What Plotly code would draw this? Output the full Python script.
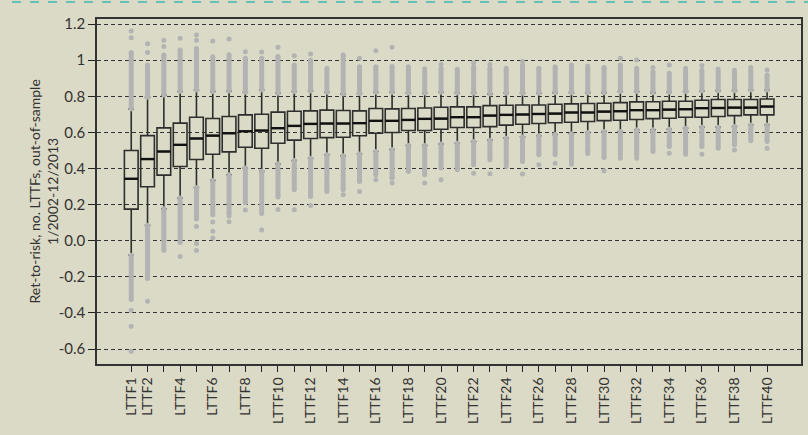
import plotly.graph_objects as go

categories = [f"LTTF{i}" for i in range(1, 41)]
tick_labels = ["LTTF1", "LTTF2"] + ["" if i % 2 else f"LTTF{i}" for i in range(3, 41)]
y_title = "Ret-to-risk, no. LTTFs, out-of-sample<br>1/2002-12/2013"

q1 = [0.175, 0.299, 0.363, 0.411, 0.450, 0.479, 0.492, 0.518, 0.512, 0.540,
      0.557, 0.566, 0.571, 0.573, 0.581, 0.595, 0.599, 0.610, 0.610, 0.617,
      0.627, 0.627, 0.632, 0.640, 0.645, 0.649, 0.653, 0.656, 0.660, 0.665,
      0.667, 0.671, 0.676, 0.678, 0.684, 0.684, 0.688, 0.693, 0.697, 0.697]
median = [0.343, 0.452, 0.494, 0.531, 0.566, 0.582, 0.595, 0.606, 0.610, 0.623,
          0.636, 0.647, 0.649, 0.649, 0.651, 0.664, 0.664, 0.669, 0.675, 0.676,
          0.684, 0.684, 0.693, 0.697, 0.699, 0.702, 0.704, 0.710, 0.710, 0.715,
          0.717, 0.723, 0.723, 0.726, 0.728, 0.734, 0.735, 0.737, 0.737, 0.743]
q3 = [0.500, 0.582, 0.625, 0.651, 0.684, 0.677, 0.688, 0.697, 0.700, 0.712,
      0.717, 0.719, 0.723, 0.721, 0.719, 0.732, 0.730, 0.732, 0.735, 0.739,
      0.741, 0.741, 0.748, 0.750, 0.752, 0.752, 0.756, 0.758, 0.760, 0.761,
      0.765, 0.769, 0.770, 0.772, 0.772, 0.778, 0.782, 0.782, 0.782, 0.785]
whisker_low = [-0.081, 0.085, 0.177, 0.236, 0.295, 0.334, 0.365, 0.402, 0.384, 0.426,
               0.444, 0.457, 0.476, 0.470, 0.480, 0.494, 0.505, 0.527, 0.527, 0.535,
               0.540, 0.549, 0.557, 0.568, 0.575, 0.581, 0.588, 0.592, 0.599, 0.605,
               0.605, 0.614, 0.614, 0.617, 0.623, 0.629, 0.629, 0.632, 0.641, 0.641]
whisker_high = [0.730, 0.794, 0.807, 0.826, 0.835, 0.826, 0.829, 0.822, 0.835, 0.817,
                0.826, 0.829, 0.822, 0.813, 0.815, 0.822, 0.822, 0.818, 0.818, 0.822,
                0.818, 0.818, 0.813, 0.817, 0.817, 0.817, 0.820, 0.820, 0.820, 0.820,
                0.826, 0.826, 0.820, 0.822, 0.826, 0.829, 0.831, 0.831, 0.835, 0.835]
# extent of the dense outlier columns
dense_high = [1.043, 0.973, 1.029, 1.056, 1.065, 1.019, 1.030, 1.010, 1.010, 1.020,
              0.973, 1.000, 0.955, 1.028, 0.963, 0.963, 0.966, 0.963, 0.936, 0.955,
              0.950, 0.964, 0.955, 0.955, 0.973, 0.955, 0.955, 0.973, 0.955, 0.955,
              0.973, 0.955, 0.936, 0.927, 0.936, 0.945, 0.936, 0.927, 0.945, 0.918]
dense_low = [-0.326, -0.210, -0.055, -0.010, 0.120, 0.144, 0.150, 0.210, 0.151, 0.242,
             0.282, 0.245, 0.273, 0.282, 0.328, 0.365, 0.346, 0.383, 0.365, 0.402,
             0.393, 0.420, 0.448, 0.430, 0.439, 0.476, 0.476, 0.439, 0.494, 0.461,
             0.476, 0.476, 0.494, 0.522, 0.479, 0.522, 0.512, 0.531, 0.553, 0.549]
# isolated outliers
sparse_high = [[1.124, 1.161], [1.043, 1.091], [1.075, 1.110], [1.121], [1.110, 1.139],
               [1.106], [1.117], [1.047], [1.045], [1.071],
               [1.024], [1.034], [], [], [1.010],
               [1.052], [1.071], [], [0.952], [0.978],
               [], [0.986], [0.976], [], [0.992],
               [], [0.964], [], [0.968], [0.960],
               [1.010], [1.001], [0.960], [0.973], [0.955],
               [0.970], [0.951], [0.944], [0.960], [0.946]]
sparse_low = [[-0.385, -0.474, -0.612], [-0.335], [], [-0.087], [0.079, -0.015, -0.055],
              [0.103, 0.052, 0.015], [0.137, 0.105], [0.170], [0.059], [0.173],
              [0.171], [0.195], [], [0.254], [0.273],
              [0.337], [0.319], [], [0.319], [0.337],
              [], [0.374], [0.371], [0.411], [0.369],
              [0.420], [0.429], [0.424], [0.483], [0.387],
              [0.457], [0.457], [], [0.485], [],
              [0.479], [], [0.503], [], [0.512]]

pos = list(range(1, len(categories) + 1))
BG = "#dbdac6"
GREY = "#b3b3b3"
FONT = "Lato"

fig = go.Figure()

# dense outlier columns drawn as thick segments
lx, ly = [], []
for p, wl, wh, dl, dh in zip(pos, whisker_low, whisker_high, dense_low, dense_high):
    lx += [p, p, None, p, p, None]
    ly += [wh, dh, None, wl, dl, None]
fig.add_trace(go.Scatter(x=lx, y=ly, mode="lines", line=dict(color=GREY, width=5),
                         hoverinfo="skip", showlegend=False))
fig.add_trace(go.Scatter(x=lx, y=ly, mode="markers", marker=dict(color=GREY, size=5),
                         hoverinfo="skip", showlegend=False))

sx, sy = [], []
for p, hi_list, lo_list in zip(pos, sparse_high, sparse_low):
    for v in hi_list + lo_list:
        sx.append(p)
        sy.append(v)
fig.add_trace(go.Scatter(x=sx, y=sy, mode="markers", marker=dict(color=GREY, size=5),
                         hoverinfo="skip", showlegend=False))

fig.add_trace(go.Box(x=pos, q1=q1, median=median, q3=q3,
                     lowerfence=whisker_low, upperfence=whisker_high,
                     width=0.84, whiskerwidth=0.4, boxpoints=False,
                     line=dict(color="#2e2e2e", width=1.6),
                     fillcolor="rgba(0,0,0,0)", showlegend=False))

# heavier median bars
mx, my = [], []
for p, m in zip(pos, median):
    mx += [p - 0.42, p + 0.42, None]
    my += [m, m, None]
fig.add_trace(go.Scatter(x=mx, y=my, mode="lines", line=dict(color="#111", width=2.4),
                         hoverinfo="skip", showlegend=False))

y_ticks = [1.2, 1.0, 0.8, 0.6, 0.4, 0.2, 0.0, -0.2, -0.4, -0.6]
y_tick_text = ["1.2", "1", "0.8", "0.6", "0.4", "0.2", "0.0", "-0.2", "-0.4", "-0.6"]

fig.update_layout(
    width=808, height=435,
    paper_bgcolor=BG, plot_bgcolor=BG,
    margin=dict(l=97, r=7, t=19, b=71, autoexpand=False),
    font=dict(family=FONT, color="#333333"),
    showlegend=False,
    xaxis=dict(range=[-1.1, 42.08], tickmode="array", tickvals=pos, ticktext=tick_labels,
               tickangle=-90, ticks="outside", ticklen=6, tickwidth=1.3, tickcolor="#222",
               showgrid=False, zeroline=False, showline=True, linecolor="#333",
               linewidth=1.6, mirror=True, automargin=False,
               tickfont=dict(size=14, family=FONT, color="#333")),
    yaxis=dict(range=[-0.683, 1.228], tickmode="array", tickvals=y_ticks, ticktext=y_tick_text,
               ticks="outside", ticklen=7, tickwidth=1.3, tickcolor="#222",
               showgrid=True, gridcolor="#333", gridwidth=1, griddash="4px,3px",
               zeroline=False, showline=True, linecolor="#333", linewidth=1.6, mirror=True,
               automargin=False,
               tickfont=dict(size=15, family=FONT, color="#333")),
    annotations=[dict(text=y_title, xref="paper", yref="paper", x=(43 - 97) / 704, y=0.5,
                      xanchor="center", yanchor="middle", textangle=-90, showarrow=False,
                      font=dict(size=14, family=FONT, color="#333"))],
    shapes=[dict(type="line", xref="paper", yref="paper",
                 x0=(12 - 97) / 704, x1=(808 - 97) / 704,
                 y0=1 + 17 / 345, y1=1 + 17 / 345,
                 line=dict(color="#3fb8b2", width=1.5, dash="dash"))],
)

fig.write_html("out.html", config={"displayModeBar": False},
               post_script="document.body.style.margin='0';document.body.style.background='%s';" % BG)
